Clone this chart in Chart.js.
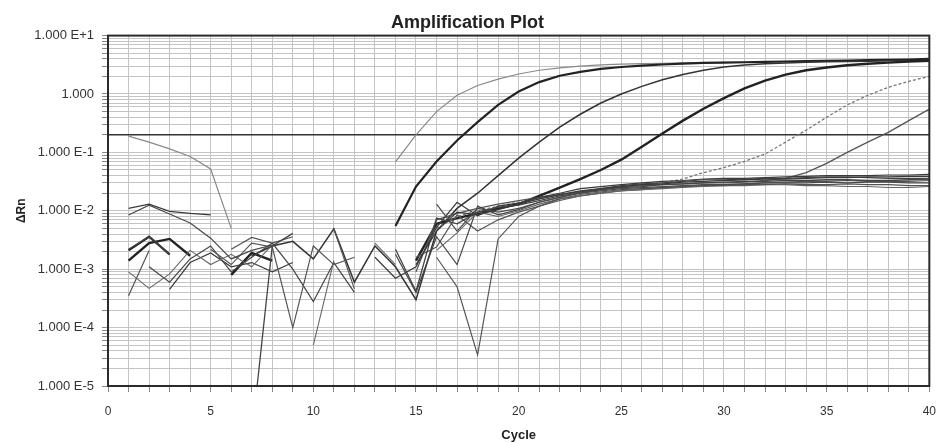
<!DOCTYPE html>
<html>
<head>
<meta charset="utf-8">
<script src="https://cdn.jsdelivr.net/npm/chart.js@4.4.1/dist/chart.umd.min.js"></script>
<style>
  html, body { margin: 0; padding: 0; background: #fff; }
  #wrap { width: 938px; height: 443px; }
</style>
</head>
<body>
<div id="wrap"><canvas id="amp_plot"></canvas></div>
<script>
// cycles 1..40
var cycles = [1,2,3,4,5,6,7,8,9,10,11,12,13,14,15,16,17,18,19,20,21,22,23,24,25,26,27,28,29,30,31,32,33,34,35,36,37,38,39,40];
var threshold = 0.2;
var xTickLabels = [0, 5, 10, 15, 20, 25, 30, 35, 40];
var yDecades = [-5, -4, -3, -2, -1, 0, 1];

// delta Rn per sample, null where the curve is broken (log of <= 0)
var amp1 = [0.19,0.15,0.115,0.085,0.052,0.005,null,null,null,null,null,null,null,0.069,0.2,0.5,0.95,1.4,1.8,2.2,2.55,2.8,3.0,3.15,3.25,3.3,3.35,3.4,3.45,3.5,3.5,3.55,3.6,3.6,3.65,3.7,3.7,3.75,3.8,3.85];
var amp2 = [0.0021,0.0036,0.0018,null,null,null,null,null,null,null,null,null,null,0.0055,0.026,0.07,0.16,0.33,0.65,1.1,1.6,2.05,2.4,2.7,2.9,3.05,3.2,3.3,3.4,3.45,3.5,3.55,3.6,3.65,3.7,3.75,3.8,3.85,3.9,4.0];
var amp3 = [null,null,null,null,null,null,0.0017,0.0025,0.003,0.0015,0.0049,0.0006,0.0025,0.0011,0.0003,0.0045,0.011,0.02,0.04,0.08,0.15,0.27,0.45,0.7,1.0,1.35,1.75,2.15,2.55,2.9,3.15,3.3,3.4,3.5,3.55,3.6,3.65,3.7,3.75,3.8];
var amp4 = [0.0014,0.0028,0.0033,0.0017,null,0.0008,0.0019,0.0014,null,null,null,null,null,null,0.0014,0.006,0.0075,0.009,0.011,0.013,0.018,0.025,0.035,0.05,0.075,0.125,0.21,0.35,0.56,0.85,1.25,1.7,2.15,2.55,2.85,3.1,3.3,3.45,3.6,3.7];
var amp5 = [null,null,null,null,null,null,null,null,null,null,null,null,null,null,null,0.005,0.008,0.01,0.012,0.014,0.016,0.019,0.021,0.023,0.025,0.027,0.03,0.035,0.045,0.055,0.07,0.094,0.15,0.24,0.4,0.65,0.95,1.3,1.65,2.0];
var amp6 = [null,null,null,null,null,null,null,null,null,null,null,null,null,null,0.0009,0.007,0.009,0.011,0.013,0.015,0.017,0.019,0.021,0.023,0.026,0.027,0.028,0.029,0.03,0.03,0.031,0.033,0.036,0.045,0.065,0.1,0.15,0.22,0.35,0.55];
var neg1 = [0.011,0.013,0.0098,0.009,0.0085,null,null,null,null,null,null,null,null,null,0.0012,0.0045,0.0095,0.0085,0.0105,0.013,0.016,0.019,0.022,0.024,0.026,0.028,0.029,0.031,0.032,0.033,0.034,0.035,0.035,0.036,0.037,0.037,0.038,0.038,0.039,0.039];
var neg2 = [0.0085,0.0125,0.0088,0.0062,0.0034,0.0015,0.0021,0.0026,null,null,null,null,null,null,null,0.013,0.0045,0.011,0.0095,0.011,0.014,0.017,0.02,0.022,0.024,0.025,0.026,0.027,0.028,0.028,0.029,0.03,0.03,0.03,0.031,0.03,0.031,0.031,0.03,0.03];
var neg3 = [0.0022,0.0036,0.0018,null,null,null,0.0000014,0.0025,0.0041,null,null,null,null,0.0022,0.00042,0.0075,0.006,0.0095,0.0115,0.0125,0.015,0.018,0.02,0.023,0.025,0.026,0.028,0.029,0.03,0.031,0.032,0.032,0.033,0.033,0.034,0.034,0.033,0.033,0.034,0.035];
var neg4 = [0.00035,0.0021,null,null,0.0022,0.0012,0.0028,0.0024,0.0001,0.0025,0.0012,0.0016,null,null,null,0.0016,0.0005,0.000034,0.0033,0.008,0.012,0.016,0.019,0.021,0.023,0.024,0.025,0.026,0.027,0.027,0.028,0.028,0.029,0.028,0.028,0.029,0.028,0.028,0.027,0.027];
var neg5 = [0.0009,0.00047,0.00083,0.0021,0.0012,0.0018,0.0011,0.0026,null,0.00005,0.0014,null,0.0028,0.0012,null,0.0021,0.0042,0.0095,0.008,0.01,0.013,0.016,0.018,0.02,0.022,0.023,0.024,0.025,0.026,0.027,0.027,0.028,0.028,0.027,0.027,0.026,0.026,0.025,0.025,0.026];
var neg6 = [null,0.0011,0.0006,0.0015,0.0025,0.0009,0.0016,0.0028,0.001,0.00028,0.0013,0.0004,null,0.0018,0.0004,0.0036,0.0012,0.012,0.0085,0.0105,0.014,0.017,0.021,0.024,0.027,0.029,0.03,0.032,0.034,0.034,0.035,0.036,0.036,0.037,0.038,0.038,0.037,0.036,0.036,0.036];
var neg7 = [0.0013,null,null,null,null,0.0022,0.0035,0.0028,0.0036,null,0.0049,0.00046,null,null,0.0016,0.0024,0.0085,0.0045,0.007,0.0095,0.012,0.015,0.018,0.02,0.022,0.023,0.025,0.026,0.027,0.028,0.029,0.03,0.031,0.032,0.032,0.033,0.032,0.032,0.032,0.033];
var neg8 = [null,null,0.00045,0.0013,0.0019,0.0011,0.0013,0.0009,0.0013,null,null,null,0.0016,0.0007,0.0011,0.0052,0.014,0.0082,0.012,0.0135,0.017,0.02,0.024,0.026,0.028,0.03,0.032,0.033,0.035,0.036,0.036,0.037,0.038,0.039,0.04,0.04,0.04,0.041,0.041,0.042];

function pts(vals) {
    return cycles.map(function (c, i) { return { x: c, y: vals[i] }; });
}

function sample(label, vals, color, width, dash) {
    return {
        label: label,
        data: pts(vals),
        borderColor: color,
        backgroundColor: color,
        borderWidth: width,
        borderDash: dash || [],
        pointRadius: 0,
        tension: 0,
        spanGaps: false,
    };
}

var yGrid = [];
yDecades.forEach(function (e) {
    for (var s = 1; s <= 9; s++) {
        if (e === 1 && s > 1) break;
        yGrid.push({ value: s * Math.pow(10, e) });
    }
});

var frame = {
    id: 'frame',
    afterDraw: function (chart) {
        var a = chart.chartArea, ctx = chart.ctx;
        ctx.save();
        ctx.strokeStyle = '#2a2a2a';
        ctx.lineWidth = 2;
        ctx.strokeRect(a.left, a.top, a.right - a.left, a.bottom - a.top);
        ctx.restore();
    }
};

var font = "'Liberation Sans', Arial, sans-serif";

var myChart = new Chart(
    document.getElementById('amp_plot'),
    config = {
        type: 'line',
        data: {
            datasets: [
                sample('neg1', neg1, '#3a3a3a', 1.3),
                sample('neg2', neg2, '#4a4a4a', 1.2),
                sample('neg3', neg3, '#444', 1.3),
                sample('neg4', neg4, '#555', 1.2),
                sample('neg5', neg5, '#666', 1.1),
                sample('neg6', neg6, '#444', 1.2),
                sample('neg7', neg7, '#555', 1.2),
                sample('neg8', neg8, '#3a3a3a', 1.2),
                sample('amp6', amp6, '#555', 1.3),
                sample('amp5', amp5, '#777', 1.3, [3, 2]),
                sample('amp4', amp4, '#222', 2.4),
                sample('amp3', amp3, '#333', 1.5),
                sample('amp2', amp2, '#222', 2.2),
                sample('amp1', amp1, '#8a8a8a', 1.2),
                {
                    label: 'Threshold',
                    data: [{ x: 0, y: threshold }, { x: 40, y: threshold }],
                    borderColor: '#333',
                    borderWidth: 1.5,
                    pointRadius: 0,
                },
            ]
        },
        options: {
            responsive: true,
            maintainAspectRatio: false,
            animation: false,
            layout: { padding: { left: 0, right: 3, top: 0, bottom: 0 } },
            plugins: {
                legend: { display: false },
                tooltip: { enabled: false },
                title: {
                    display: true,
                    text: 'Amplification Plot',
                    color: '#222',
                    font: { family: font, size: 18, weight: 'bold' },
                    padding: { top: 12, bottom: 2 },
                },
            },
            scales: {
                x: {
                    type: 'linear',
                    min: 0,
                    max: 40,
                    ticks: {
                        stepSize: 1,
                        autoSkip: false,
                        maxRotation: 0,
                        padding: 2,
                        color: '#333',
                        font: { family: font, size: 12 },
                        callback: function (v) { return xTickLabels.indexOf(v) >= 0 ? String(v) : ''; },
                    },
                    grid: { color: '#c4c4c4', lineWidth: 1, tickLength: 16, tickColor: '#888', tickBorderDash: [5, 30] },
                    title: {
                        display: true,
                        text: 'Cycle',
                        color: '#222',
                        font: { family: font, size: 13, weight: 'bold' },
                        padding: { top: 7, bottom: 0 },
                    },
                },
                y: {
                    type: 'logarithmic',
                    min: 1e-5,
                    max: 10,
                    afterBuildTicks: function (scale) { scale.ticks = yGrid.map(function (t) { return { value: t.value }; }); },
                    afterFit: function (scale) { scale.width = 108; },
                    ticks: {
                        autoSkip: false,
                        padding: 8,
                        color: '#333',
                        font: { family: font, size: 13 },
                        callback: function (v) {
                            var e = Math.log10(v), r = Math.round(e);
                            if (Math.abs(e - r) > 1e-6) return '';
                            if (r === 0) return '1.000';
                            return '1.000 E' + (r > 0 ? '+' : '') + r;
                        },
                    },
                    grid: { color: '#c4c4c4', lineWidth: 1, tickLength: 6, tickColor: '#888' },
                    title: {
                        display: true,
                        text: 'ΔRn',
                        color: '#222',
                        font: { family: font, size: 12, weight: 'bold' },
                        padding: { top: 14, bottom: 0 },
                    },
                },
            },
        },
        plugins: [frame],
    });
</script>
</body>
</html>
